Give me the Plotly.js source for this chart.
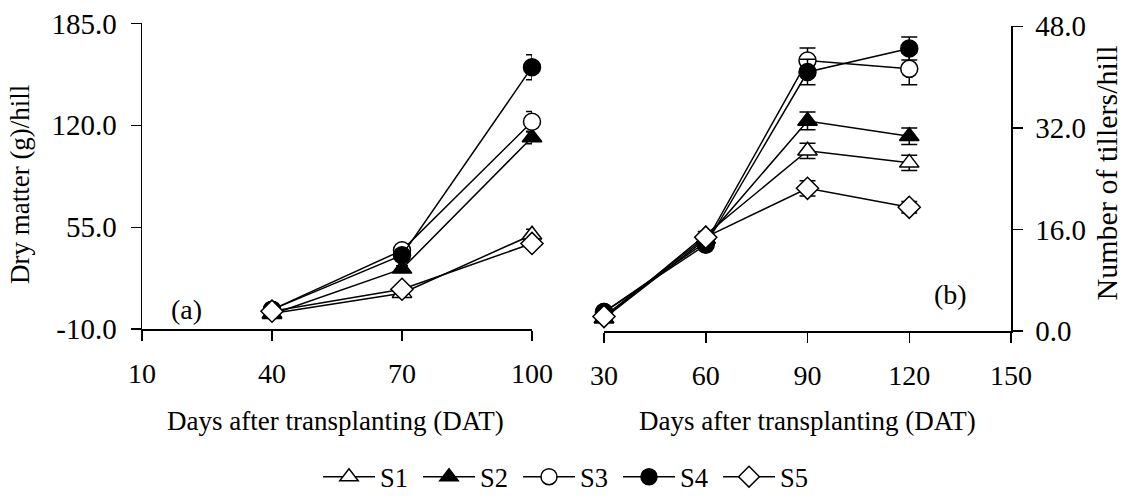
<!DOCTYPE html>
<html>
<head>
<meta charset="utf-8">
<script src="https://cdn.plot.ly/plotly-3.0.1.min.js"></script>
<style>
  html, body { margin: 0; padding: 0; background: #ffffff; }
  #chart { width: 1122px; height: 501px; }
</style>
</head>
<body>
<div id="chart"></div>
<script>
// ---------- Data ----------
const seriesNames = ["S1", "S2", "S3", "S4", "S5"];

// Panel (a): dry matter (g)/hill
const daysA = [40, 70, 100];
const dryS1 = [0.0, 13.0, 50.2];
const dryS2 = [-0.5, 28.5, 112.3];
const dryS3 = [2.5, 40.3, 122.3];
const dryS4 = [2.5, 37.2, 157.0];
const dryS5 = [1.5, 15.5, 44.7];
const dryErrS1 = [0.5, 1.5, 3.5];
const dryErrS2 = [0.5, 2.0, 4.0];
const dryErrS3 = [0.5, 2.0, 6.5];
const dryErrS4 = [0.5, 2.0, 8.0];
const dryErrS5 = [0.5, 1.5, 3.0];

// Panel (b): number of tillers/hill
const daysB = [30, 60, 90, 120];
const tilS1 = [2.0, 15.2, 28.4, 26.5];
const tilS2 = [2.0, 14.5, 33.1, 30.7];
const tilS3 = [3.0, 14.0, 42.6, 41.3];
const tilS4 = [3.0, 13.6, 40.8, 44.5];
const tilS5 = [2.3, 14.8, 22.5, 19.5];
const tilErrS1 = [0.2, 0.5, 1.2, 1.2];
const tilErrS2 = [0.2, 0.5, 1.4, 1.3];
const tilErrS3 = [0.2, 0.5, 2.0, 2.5];
const tilErrS4 = [0.2, 0.5, 2.0, 1.8];
const tilErrS5 = [0.2, 0.5, 1.2, 0.9];

// Axis ticks
const xTicksA = [10, 40, 70, 100];
const yTicksA = [-10, 55, 120, 185];
const yTickTextA = ["-10.0", "55.0", "120.0", "185.0"];
const xTicksB = [30, 60, 90, 120, 150];
const yTicksB = [0, 16, 32, 48];
const yTickTextB = ["0.0", "16.0", "32.0", "48.0"];

// ---------- Styling ----------
const FONT = '"Liberation Serif", "Times New Roman", Times, serif';
const symbols = ["triangle-up", "triangle-up", "circle", "circle", "diamond"];
const fills   = ["#ffffff", "#000000", "#ffffff", "#000000", "#ffffff"];

const W = 1122, H = 501;
const px = v => v / W;
const py = v => 1 - v / H;

const dryData = [dryS1, dryS2, dryS3, dryS4, dryS5];
const dryErr = [dryErrS1, dryErrS2, dryErrS3, dryErrS4, dryErrS5];
const tilData = [tilS1, tilS2, tilS3, tilS4, tilS5];
const tilErr = [tilErrS1, tilErrS2, tilErrS3, tilErrS4, tilErrS5];

const traces = [];
seriesNames.forEach((name, i) => {
  traces.push({
    type: "scatter", mode: "lines+markers", name: name,
    x: daysA, y: dryData[i], xaxis: "x", yaxis: "y",
    cliponaxis: false, legendgroup: name, showlegend: true,
    line: { color: "#000000", width: 1.5 },
    marker: { symbol: symbols[i], size: 17, color: fills[i], line: { color: "#000000", width: 1.5 } },
    error_y: { type: "data", array: dryErr[i], visible: true, color: "#000000", thickness: 1.5, width: 6 }
  });
});
seriesNames.forEach((name, i) => {
  traces.push({
    type: "scatter", mode: "lines+markers", name: name,
    x: daysB, y: tilData[i], xaxis: "x2", yaxis: "y2",
    cliponaxis: false, legendgroup: name, showlegend: false,
    line: { color: "#000000", width: 1.5 },
    marker: { symbol: symbols[i], size: 17, color: fills[i], line: { color: "#000000", width: 1.5 } },
    error_y: { type: "data", array: tilErr[i], visible: true, color: "#000000", thickness: 1.5, width: 8 }
  });
});

const axisCommon = {
  showline: true, linecolor: "#000000", linewidth: 1.5,
  ticks: "outside", ticklen: 10, tickwidth: 1.5, tickcolor: "#000000",
  showgrid: false, zeroline: false, fixedrange: true
};
const xTickFont = { family: FONT, size: 28, color: "#000000" };
const yTickFont = { family: FONT, size: 29, color: "#000000" };

const layout = {
  width: W, height: H,
  margin: { l: 0, r: 0, t: 0, b: 0 },
  paper_bgcolor: "#ffffff", plot_bgcolor: "#ffffff",
  font: { family: FONT, color: "#000000" },
  xaxis: Object.assign({}, axisCommon, {
    domain: [px(142), px(532)], range: [10, 100], tickmode: "array", tickvals: xTicksA, anchor: "y",
    tickfont: xTickFont, ticklabelstandoff: 9
  }),
  yaxis: Object.assign({}, axisCommon, {
    domain: [py(338), py(24)], range: [-10, 185], tickmode: "array", tickvals: yTicksA, ticktext: yTickTextA, anchor: "x",
    tickfont: yTickFont, ticklabelstandoff: 8
  }),
  xaxis2: Object.assign({}, axisCommon, {
    domain: [px(604), px(1011)], range: [30, 150], tickmode: "array", tickvals: xTicksB, anchor: "y2",
    tickfont: xTickFont, ticklabelstandoff: 9
  }),
  yaxis2: Object.assign({}, axisCommon, {
    domain: [py(340), py(27)], range: [0, 48], tickmode: "array", tickvals: yTicksB, ticktext: yTickTextB, anchor: "x2", side: "right",
    tickfont: yTickFont, ticklabelstandoff: 7
  }),
  showlegend: true,
  legend: {
    orientation: "h", x: px(318), xanchor: "left", y: py(490), yanchor: "middle",
    font: { family: FONT, size: 26.5, color: "#000000" },
    itemwidth: 52, entrywidth: 33, entrywidthmode: "pixels",
    bgcolor: "rgba(0,0,0,0)", borderwidth: 0, itemclick: false, itemdoubleclick: false
  },
  annotations: [
    { text: "Dry matter (g)/hill", xref: "paper", yref: "paper", x: px(20), y: py(190), textangle: -90,
      showarrow: false, xanchor: "center", yanchor: "middle", font: { family: FONT, size: 27, color: "#000000" } },
    { text: "Number of tillers/hill", xref: "paper", yref: "paper", x: px(1106), y: py(178), textangle: -90,
      showarrow: false, xanchor: "center", yanchor: "middle", font: { family: FONT, size: 30, color: "#000000" } },
    { text: "Days after transplanting (DAT)", xref: "paper", yref: "paper", x: px(335), y: py(432),
      showarrow: false, xanchor: "center", yanchor: "middle", font: { family: FONT, size: 27, color: "#000000" } },
    { text: "Days after transplanting (DAT)", xref: "paper", yref: "paper", x: px(807), y: py(432),
      showarrow: false, xanchor: "center", yanchor: "middle", font: { family: FONT, size: 27, color: "#000000" } },
    { text: "(a)", xref: "paper", yref: "paper", x: px(186), y: py(318),
      showarrow: false, xanchor: "center", yanchor: "middle", font: { family: FONT, size: 28, color: "#000000" } },
    { text: "(b)", xref: "paper", yref: "paper", x: px(951), y: py(302),
      showarrow: false, xanchor: "center", yanchor: "middle", font: { family: FONT, size: 28, color: "#000000" } }
  ]
};

Plotly.newPlot("chart", traces, layout, { staticPlot: true, displayModeBar: false });
</script>
</body>
</html>
